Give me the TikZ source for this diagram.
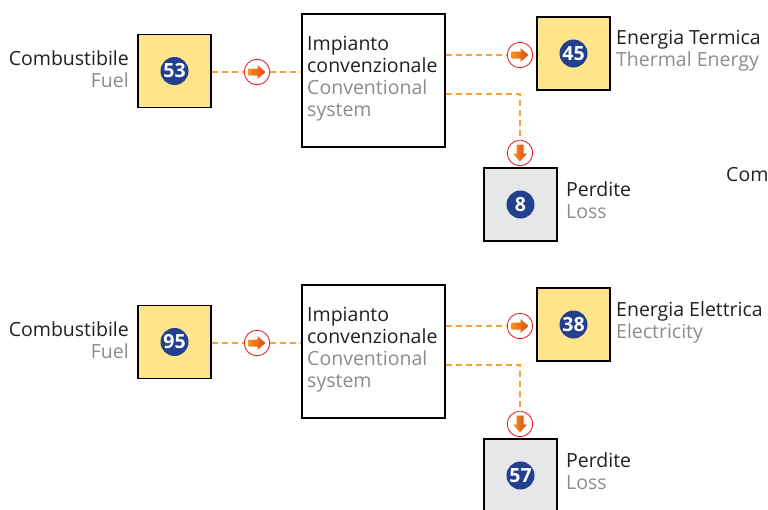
\documentclass[tikz,border=0pt]{standalone}
\usepackage{fontspec}
\setmainfont{Open Sans}
\definecolor{boxyellow}{HTML}{FFE58A}
\definecolor{boxgray}{HTML}{E6E7E8}
\definecolor{numblue}{HTML}{22408F}
\definecolor{flow}{HTML}{F7A234}
\definecolor{ringred}{HTML}{E0262C}
\definecolor{arrowA}{HTML}{F7941D}
\definecolor{arrowB}{HTML}{D9481C}
\definecolor{subgray}{HTML}{8A8C8E}
\definecolor{maintext}{HTML}{231F20}
\tikzset{
  valbox/.style={draw=black, line width=1.4pt, minimum width=73pt, minimum height=73pt, inner sep=0pt},
  plantbox/.style={draw=black, line width=1.4pt, fill=white, minimum width=143pt, minimum height=133pt, inner sep=0pt},
  numdot/.style={circle, fill=numblue, text=white, minimum size=28pt, inner sep=0pt, font=\bfseries\fontsize{19.5}{19.5}\selectfont},
  ring/.style={circle, draw=ringred, line width=0.9pt, fill=white, minimum size=25.5pt, inner sep=0pt},
  flowline/.style={draw=flow, line width=1.5pt, dash pattern=on 6pt off 4pt},
  labtxt/.style={font=\fontsize{19.5}{22}\selectfont, text=maintext, inner sep=0pt},
  flowarrow/.pic={\shade[left color=arrowA, right color=arrowB] (-8.5,-3.5) -- (0.5,-3.5) -- (0.5,-7) -- (8.5,0) -- (0.5,7) -- (0.5,3.5) -- (-8.5,3.5) -- cycle;}
}
\newcommand\flowrow[6]{%
  \node[valbox, fill=boxyellow] (fuel#1) at (174.5, {71+#2}) {};
  \node[numdot] (nf#1) at (fuel#1.center) {#3};
  \node[labtxt, anchor=east, align=right] (lf#1) at (129, {69+#2}) {Combustibile\\\textcolor{subgray}{Fuel}};
  \node[plantbox] (imp#1) at (373.5, {80.5+#2}) {};
  \node[labtxt, anchor=north west, align=left] (limp#1) at (307, {36+#2}) {Impianto\\convenzionale\\\textcolor{subgray}{Conventional}\\\textcolor{subgray}{system}};
  \node[valbox, fill=boxyellow] (out#1) at (573.5, {53.5+#2}) {};
  \node[numdot] (no#1) at (out#1.center) {#4};
  \node[labtxt, anchor=west, align=left] (lo#1) at (616, {51+#2}) {#5\\\textcolor{subgray}{#6}};
  \node[valbox, fill=boxgray] (loss#1) at (520.5, {204.5+#2}) {};
  \node[numdot] (nl#1) at (loss#1.center) {\lossnum};
  \node[labtxt, anchor=west, align=left] (ll#1) at (566, {200+#2}) {Perdite\\\textcolor{subgray}{Loss}};
  \node[ring] (ra#1) at (257, {72+#2}) {};
  \node[ring] (rb#1) at (520, {55+#2}) {};
  \node[ring] (rc#1) at (520, {153+#2}) {};
  \path (imp#1.east) ++(0,13.5) coordinate (split#1);
  \draw[flowline] (fuel#1.east |- ra#1) -- (ra#1.west);
  \draw[flowline] (ra#1.east) -- (imp#1.west |- ra#1);
  \draw[flowline] (imp#1.east |- rb#1) -- (rb#1.west);
  \draw[flowline] (split#1) -| (rc#1.north);
  \pic at (ra#1) {flowarrow};
  \pic at (rb#1) {flowarrow};
  \pic[rotate=-90] at (rc#1) {flowarrow};
}
\begin{document}
\begin{tikzpicture}[x=1pt, y=-1pt]
  \useasboundingbox (0,0) rectangle (768,509);
  \def\lossnum{8}
  \flowrow{1}{0}{53}{45}{Energia Termica}{Thermal Energy}
  \def\lossnum{57}
  \flowrow{2}{271}{95}{38}{Energia Elettrica}{Electricity}
  \node[labtxt, anchor=west] (cut) at (726, 175) {Com};
\end{tikzpicture}
\end{document}
